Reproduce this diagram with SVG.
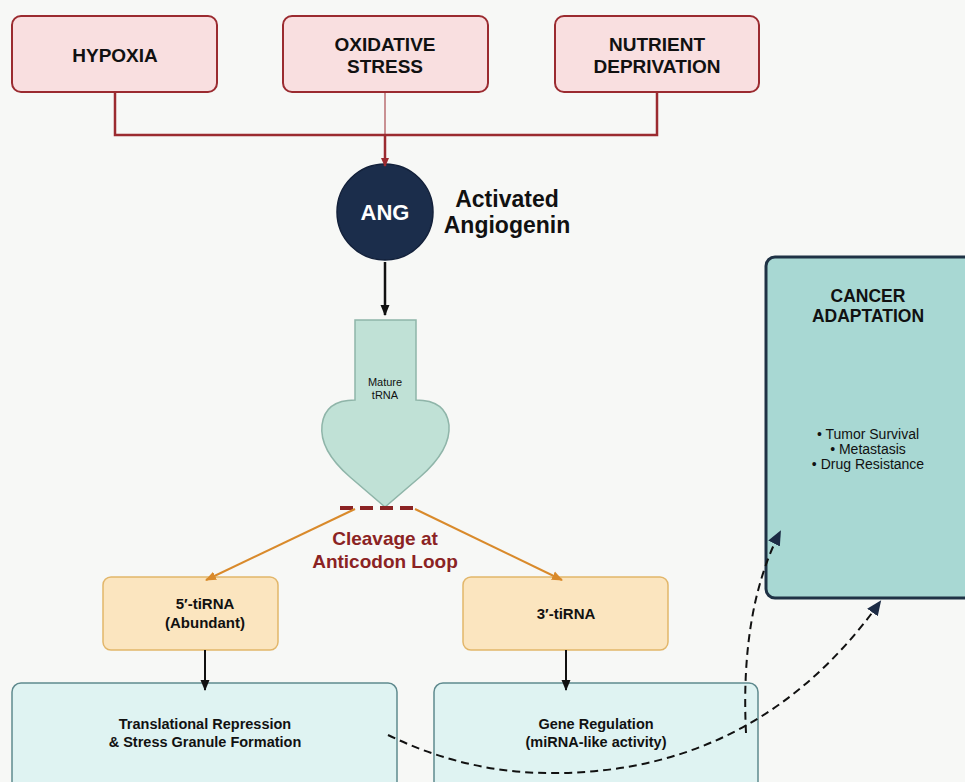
<svg xmlns="http://www.w3.org/2000/svg" width="965" height="782" viewBox="0 0 965 782">
<style>
.stress{fill:#f9dfe0;stroke:#9b2b30;stroke-width:2}
.tirna{fill:#fbe5bf;stroke:#e2b66a;stroke-width:1.5}
.func{fill:#dff3f2;stroke:#5f8a8e;stroke-width:1.5}
.t{font-family:"Liberation Sans",Arial,sans-serif;text-anchor:middle;fill:#111}
.b{font-weight:bold}
</style>
<defs>
<marker id="ar" markerWidth="10" markerHeight="10" refX="8" refY="5" orient="auto" markerUnits="userSpaceOnUse"><path d="M0,1 L9,5 L0,9 Z" fill="#9b2b30"/></marker>
<marker id="ak" markerWidth="12" markerHeight="12" refX="10" refY="6" orient="auto" markerUnits="userSpaceOnUse"><path d="M0,1.5 L11,6 L0,10.5 Z" fill="#111"/></marker>
<marker id="ao" markerWidth="12" markerHeight="12" refX="10" refY="6" orient="auto" markerUnits="userSpaceOnUse"><path d="M0,1.5 L11,6 L0,10.5 Z" fill="#d98a2b"/></marker>
<marker id="an" markerWidth="16" markerHeight="16" refX="13" refY="8" orient="auto" markerUnits="userSpaceOnUse"><path d="M0,1.5 L15,8 L0,14.5 Z" fill="#1c2b44"/></marker>
</defs>
<rect width="965" height="782" fill="#f7f8f6"/>
<g id="hypoxia"><rect class="stress" x="12" y="16" width="205" height="76" rx="9"/><text class="t b" x="115" y="62" font-size="19">HYPOXIA</text></g>
<g id="oxidative"><rect class="stress" x="283" y="16" width="205" height="76" rx="9"/><text class="t b" x="385" y="51" font-size="19">OXIDATIVE</text><text class="t b" x="385" y="73" font-size="19">STRESS</text></g>
<g id="nutrient"><rect class="stress" x="555" y="16" width="204" height="76" rx="9"/><text class="t b" x="657" y="51" font-size="19">NUTRIENT</text><text class="t b" x="657" y="73" font-size="19">DEPRIVATION</text></g>
<g id="ang"><ellipse cx="385" cy="212" rx="48" ry="48" fill="#1b2d4b" stroke="#12203a" stroke-width="1.5"/><text class="t b" x="385" y="220" font-size="22" style="fill:#fff">ANG</text>
<text class="t b" x="507" y="207" font-size="23">Activated</text><text class="t b" x="507" y="233" font-size="23">Angiogenin</text></g>
<g id="trna"><path d="M355,320 L416,320 L416,400 Q446,400 449,425 Q451,450 420,477 L385,507 L350,477 Q319,450 322,425 Q325,400 355,400 Z" fill="#c0e1d6" stroke="#8fb5a9" stroke-width="1.5"/>
<text class="t" x="385" y="386" font-size="11">Mature</text><text class="t" x="385" y="399" font-size="11">tRNA</text></g>
<g id="cleavage"><line x1="340" y1="508" x2="415" y2="508" stroke="#8b2323" stroke-width="4" stroke-dasharray="13,7"/>
<text class="t b" x="385" y="545" font-size="19" style="fill:#8b2323">Cleavage at</text><text class="t b" x="385" y="568" font-size="19" style="fill:#8b2323">Anticodon Loop</text></g>
<g id="tirna5"><rect class="tirna" x="103" y="577" width="175" height="73" rx="8"/><text class="t b" x="205" y="609" font-size="15">5′-tiRNA</text><text class="t b" x="205" y="628" font-size="15">(Abundant)</text></g>
<g id="tirna3"><rect class="tirna" x="463" y="577" width="205" height="73" rx="8"/><text class="t b" x="566" y="619" font-size="15">3′-tiRNA</text></g>
<g id="translational"><rect class="func" x="12" y="683" width="385" height="110" rx="9"/><text class="t b" x="205" y="729" font-size="14.5">Translational Repression</text><text class="t b" x="205" y="747" font-size="14.5">&amp; Stress Granule Formation</text></g>
<g id="gene"><rect class="func" x="434" y="683" width="324" height="110" rx="9"/><text class="t b" x="596" y="729" font-size="14.5">Gene Regulation</text><text class="t b" x="596" y="747" font-size="14.5">(miRNA-like activity)</text></g>
<g id="cancer"><rect x="766" y="257" width="210" height="341" rx="9" fill="#a8d8d3" stroke="#1f3245" stroke-width="3"/>
<text class="t b" x="868" y="302" font-size="17.5">CANCER</text><text class="t b" x="868" y="322" font-size="17.5">ADAPTATION</text>
<text class="t" x="868" y="439" font-size="14">• Tumor Survival</text><text class="t" x="868" y="454" font-size="14">• Metastasis</text><text class="t" x="868" y="469" font-size="14">• Drug Resistance</text></g>
<g id="connectors">
<path d="M115,92 V135 H657 V92" fill="none" stroke="#9b2b30" stroke-width="2.5"/>
<line x1="385" y1="92" x2="385" y2="135" stroke="#9b2b30" stroke-width="1"/>
<line x1="385" y1="135" x2="385" y2="166" stroke="#9b2b30" stroke-width="2.5" marker-end="url(#ar)"/>
<line x1="385" y1="262" x2="385" y2="315" stroke="#111" stroke-width="2.5" marker-end="url(#ak)"/>
<line x1="355" y1="509" x2="206" y2="580" stroke="#d98a2b" stroke-width="2" marker-end="url(#ao)"/>
<line x1="415" y1="509" x2="562" y2="580" stroke="#d98a2b" stroke-width="2" marker-end="url(#ao)"/>
<line x1="205" y1="650" x2="205" y2="690" stroke="#111" stroke-width="2" marker-end="url(#ak)"/>
<line x1="566" y1="650" x2="566" y2="690" stroke="#111" stroke-width="2" marker-end="url(#ak)"/>
<path d="M388,735 Q470,775 560,773 Q760,770 880,602" fill="none" stroke="#111" stroke-width="2" stroke-dasharray="8,5" marker-end="url(#an)"/>
<path d="M746,733 Q740,610 780,532" fill="none" stroke="#111" stroke-width="2" stroke-dasharray="8,5" marker-end="url(#an)"/>
</g>
</svg>
